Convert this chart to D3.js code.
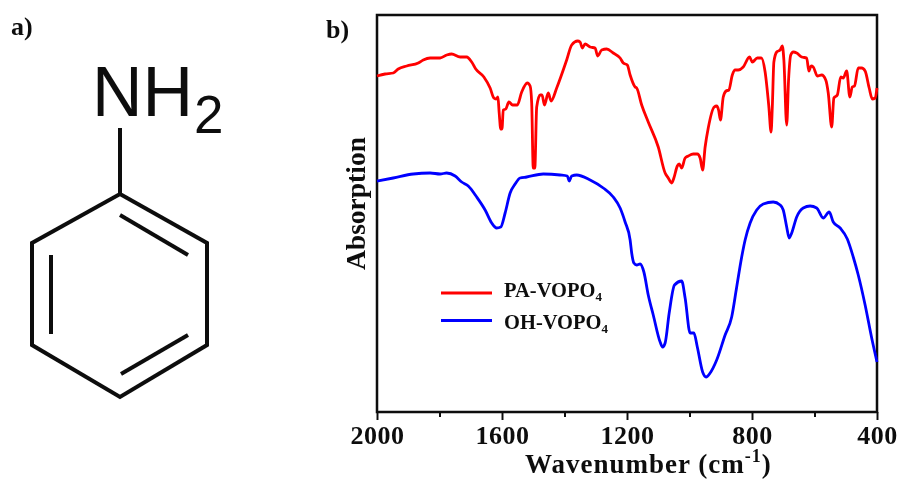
<!DOCTYPE html>
<html>
<head>
<meta charset="utf-8">
<script src="https://cdn.jsdelivr.net/npm/d3@7"></script>
<style>
html, body { margin: 0; padding: 0; background: #fff; }
text { font-family: "Liberation Serif", serif; font-weight: bold; fill: #111; }
</style>
</head>
<body>
<script>
let w = 901
let h = 479
let plot = { left: 377, right: 877, top: 15, bottom: 412 }

// Spectra: [wavenumber, absorption]
let paVopo4 = [
	[2000,336],[1974,338],[1948,339],[1932,343],[1905,346],[1868,349],[1852,352],[1830,354],[1798,354],[1777,357],
	[1761,358],[1734,355],[1713,355],[1697,350],[1684,343],[1658,335],[1638,324],[1626,314],[1619,313],[1613,315],
	[1609,299],[1604,283],[1600,283],[1596,302],[1588,303],[1578,310],[1566,307],[1551,307],[1537,320],[1519,329],
	[1510,326],[1505,309],[1500,244],[1495,244],[1489,305],[1478,317],[1472,317],[1464,307],[1452,319],[1443,311],
	[1425,324],[1393,352],[1377,367],[1358,371],[1350,370],[1343,364],[1334,368],[1318,365],[1302,364],[1294,356],
	[1281,362],[1265,363],[1244,359],[1222,354],[1212,349],[1199,347],[1190,337],[1174,325],[1169,324],[1153,307],
	[1132,290],[1100,265],[1078,239],[1068,234],[1057,229],[1050,234],[1039,246],[1033,248],[1025,244],[1014,254],
	[1004,256],[988,258],[975,258],[966,254],[958,242],[950,265],[940,284],[921,305],[913,306],[907,302],
	[901,292],[892,315],[883,321],[874,322],[863,337],[854,342],[844,342],[828,345],[808,355],[799,350],
	[783,354],[770,354],[758,340],[746,305],[739,280],[735,305],[730,350],[721,360],[710,362],[703,366],
	[698,352],[689,287],[683,332],[676,357],[668,360],[657,359],[641,355],[625,354],[618,341],[611,346],
	[604,345],[591,336],[577,337],[564,332],[556,319],[545,285],[538,314],[527,317],[516,335],[508,334],
	[497,341],[487,315],[479,325],[472,326],[460,344],[449,344],[438,341],[425,324],[415,313],[406,314],[400,324]
]
let ohVopo4 = [
	[2000,231],[1948,234],[1884,238],[1830,239],[1798,238],[1777,239],[1750,236],[1729,230],[1708,226],[1681,215],
	[1654,202],[1633,189],[1617,184],[1604,185],[1590,199],[1574,219],[1558,228],[1542,234],[1521,235],[1468,238],
	[1414,237],[1391,236],[1385,231],[1377,236],[1361,237],[1318,232],[1276,224],[1244,215],[1222,204],[1206,190],
	[1190,172],[1185,159],[1178,149],[1169,147],[1158,148],[1146,140],[1132,117],[1116,97],[1094,70],[1086,65],
	[1078,69],[1065,99],[1048,127],[1025,131],[1014,114],[998,79],[986,79],[975,65],[958,40],[947,35],
	[934,39],[913,52],[886,77],[865,95],[849,125],[833,155],[822,172],[806,189],[785,202],[764,208],
	[732,210],[710,207],[700,202],[689,185],[681,174],[673,179],[657,195],[636,204],[614,206],[593,204],
	[572,194],[553,200],[540,190],[518,184],[495,173],[476,155],[460,137],[438,107],[417,74],[400,50]
]
let majorTicks = [2000, 1600, 1200, 800, 400]
let minorTicks = [1800, 1400, 1000, 600]
let legendNames = ["PA-VOPO", "OH-VOPO"]
let legendColors = ["#ff0000", "#0000ff"]

// Aniline ring, in picture pixels
let ringAtoms = [[120,194],[207,243],[207,345],[120,397],[32,345],[32,243]]
let ringInner = [[[120,215],[188,255]],[[188,335],[121,374]],[[51,334],[51,255]]]

let svg = d3.select("body")
	.append("svg")
	.attr("width", w)
	.attr("height", h)
	.style("display", "block")

// the source picture is a soft scan
svg.append("filter")
	.attr("id", "soft")
	.attr("filterUnits", "userSpaceOnUse")
	.attr("x", 0).attr("y", 0)
	.attr("width", w).attr("height", h)
	.append("feGaussianBlur")
	.attr("stdDeviation", 0.45)

let root = svg.append("g").attr("filter", "url(#soft)")

let xScale = d3.scaleLinear()
	.domain([2000, 400])
	.range([plot.left, plot.right])

let yScale = d3.scaleLinear()
	.domain([0, 397])
	.range([plot.bottom, plot.top])

let line = d3.line()
	.curve(d3.curveMonotoneX)
	.x(d => xScale(d[0]))
	.y(d => yScale(d[1]))

// Frame
root.append("rect")
	.attr("x", plot.left)
	.attr("y", plot.top)
	.attr("width", plot.right - plot.left)
	.attr("height", plot.bottom - plot.top)
	.attr("fill", "none")
	.attr("stroke", "#111")
	.attr("stroke-width", 2.5)

// Axes
let axisG = root.append("g").attr("transform", "translate(0," + plot.bottom + ")")

axisG.append("g")
	.call(d3.axisBottom(xScale).tickValues(minorTicks).tickSize(5).tickFormat(""))
	.call(g => g.select(".domain").remove())
	.call(g => g.selectAll("line").attr("stroke", "#111").attr("stroke-width", 2))

axisG.append("g")
	.call(d3.axisBottom(xScale).tickValues(majorTicks).tickSize(8).tickPadding(6).tickFormat(d3.format("d")))
	.call(g => g.select(".domain").remove())
	.call(g => g.selectAll("line").attr("stroke", "#111").attr("stroke-width", 2))
	.call(g => g.selectAll("text")
		.attr("font-size", 26)
		.attr("letter-spacing", 0.5)
		.attr("font-family", null)
		.attr("fill", null))

// Spectra
root.selectAll(".spectrum")
	.data([paVopo4, ohVopo4])
	.enter()
	.append("path")
	.attr("class", "spectrum")
	.attr("d", line)
	.attr("fill", "none")
	.attr("stroke", (d,i) => legendColors[i])
	.attr("stroke-width", 2.8)
	.attr("stroke-linejoin", "round")

// Legend
let legend = root.selectAll(".legend")
	.data(legendNames)
	.enter()
	.append("g")
	.attr("class", "legend")
	.attr("transform", (d,i) => "translate(441," + (293 + i * 27.5) + ")")

legend.append("line")
	.attr("x2", 51)
	.attr("stroke", (d,i) => legendColors[i])
	.attr("stroke-width", 3)

let legendText = legend.append("text")
	.attr("x", 63)
	.attr("y", (d,i) => 4 + i * 4)
	.attr("font-size", 20.5)
	.text(d => d)

legendText.append("tspan")
	.attr("font-size", 13)
	.attr("dy", 4)
	.text("4")

// Axis titles
let xTitle = root.append("text")
	.attr("x", 525)
	.attr("y", 473)
	.attr("font-size", 27)
	.attr("letter-spacing", 1)
	.text("Wavenumber (cm")

xTitle.append("tspan")
	.attr("font-size", 18)
	.attr("dy", -11)
	.text("-1")

xTitle.append("tspan")
	.attr("dy", 11)
	.text(")")

root.append("text")
	.attr("transform", "translate(365,270) rotate(-90)")
	.attr("font-size", 27.5)
	.text("Absorption")

// Panel labels
root.append("text").attr("x", 11).attr("y", 35).attr("font-size", 26).text("a)")
root.append("text").attr("x", 326).attr("y", 38).attr("font-size", 26).text("b)")

// Molecule
let mol = root.append("g")
	.attr("fill", "none")
	.attr("stroke", "#111")
	.attr("stroke-width", 4)

mol.append("path")
	.attr("d", d3.line().curve(d3.curveLinearClosed)(ringAtoms))
	.attr("stroke-linejoin", "miter")

mol.selectAll(".inner")
	.data(ringInner)
	.enter()
	.append("path")
	.attr("class", "inner")
	.attr("d", d3.line())

mol.append("path")
	.attr("d", d3.line()([[120,128],[120,194]]))

let nh = root.append("text")
	.attr("x", 92)
	.attr("y", 116)
	.attr("font-size", 70)
	.style("font-family", "'Liberation Sans', sans-serif")
	.style("font-weight", "normal")
	.text("NH")

nh.append("tspan")
	.attr("font-size", 53)
	.attr("dy", 17)
	.attr("dx", 1)
	.text("2")
</script>
</body>
</html>
